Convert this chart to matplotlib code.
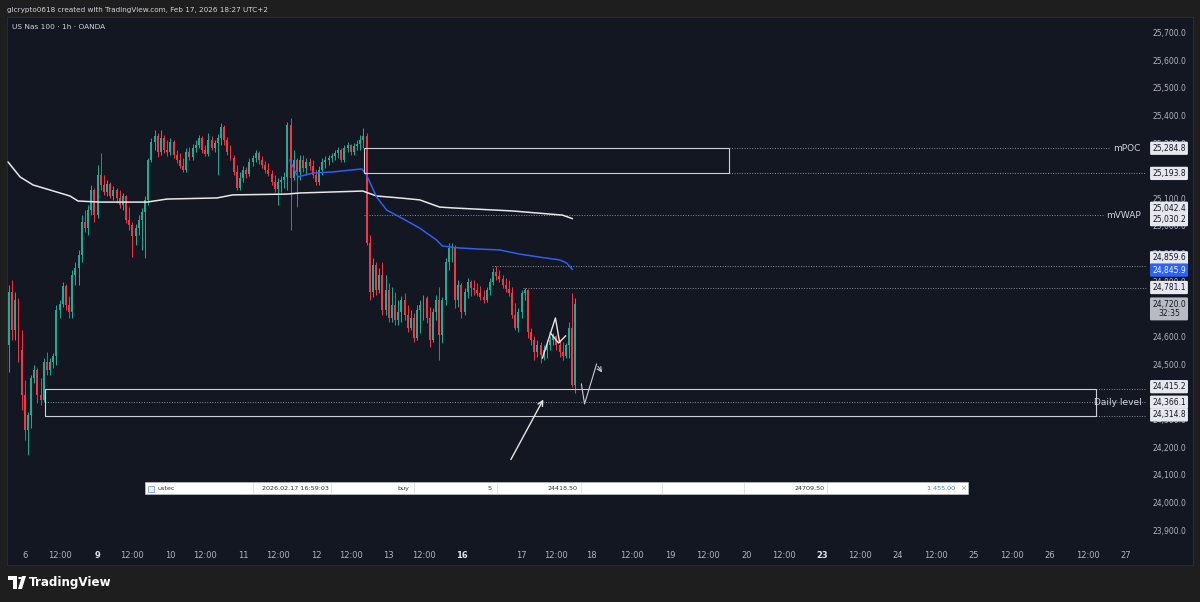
import matplotlib
matplotlib.use('Agg')
import matplotlib.pyplot as plt
from matplotlib.patches import Rectangle, Circle, Polygon
from matplotlib.transforms import blended_transform_factory, offset_copy
import numpy as np

# ---------------- data (hourly bars, index = bar number) ----------------
first_open = 24573
closes = [24765, 24627, 24736, 24555, 24392, 24266, 24320, 24454, 24483, 24392,
          24374, 24512, 24483, 24512, 24533, 24700, 24721, 24787, 24718, 24692,
          24826, 24852, 24899, 25018, 24996, 25061, 25134, 25043, 25188, 25152,
          25127, 25155, 25112, 25134, 25105, 25080, 25112, 25025, 25007, 24967,
          24996, 25025, 25054, 25098, 25242, 25307, 25329, 25271, 25322, 25278,
          25271, 25307, 25260, 25242, 25221, 25206, 25271, 25253, 25286, 25297,
          25322, 25278, 25264, 25315, 25286, 25304, 25322, 25362, 25315, 25271,
          25250, 25199, 25141, 25177, 25206, 25192, 25235, 25250, 25268, 25242,
          25224, 25206, 25192, 25163, 25137, 25163, 25170, 25181, 25369, 25177,
          25242, 25199, 25242, 25213, 25235, 25221, 25188, 25163, 25206, 25235,
          25242, 25250, 25257, 25268, 25278, 25242, 25286, 25297, 25271, 25293,
          25300, 25315, 25329, 24942, 24765, 24863, 24772, 24826, 24700, 24772,
          24671, 24718, 24664, 24692, 24736, 24682, 24635, 24671, 24598, 24700,
          24718, 24743, 24671, 24591, 24692, 24736, 24609, 24736, 24873, 24924,
          24928, 24736, 24790, 24692, 24765, 24801, 24779, 24772, 24761, 24747,
          24736, 24772, 24801, 24837, 24823, 24812, 24790, 24776, 24761, 24682,
          24635, 24692, 24761, 24772, 24620, 24591, 24548, 24573, 24537, 24555,
          24573, 24591, 24606, 24573, 24548, 24533, 24573, 24635, 24429, 24720]
highs = [24790, 24808, 24765, 24743, 24627, 24447, 24331, 24465, 24501, 24490,
         24454, 24526, 24548, 24526, 24544, 24718, 24736, 24801, 24794, 24750,
         24844, 24873, 24917, 25043, 25061, 25080, 25152, 25141, 25224, 25268,
         25188, 25170, 25163, 25148, 25141, 25134, 25123, 25116, 25072, 25018,
         25011, 25043, 25069, 25112, 25250, 25322, 25351, 25340, 25351, 25333,
         25315, 25322, 25315, 25278, 25268, 25250, 25286, 25289, 25300, 25315,
         25333, 25329, 25297, 25340, 25329, 25315, 25336, 25376, 25369, 25325,
         25297, 25260, 25224, 25199, 25221, 25217, 25250, 25260, 25278, 25275,
         25257, 25239, 25231, 25206, 25188, 25177, 25184, 25199, 25380, 25394,
         25278, 25250, 25260, 25260, 25250, 25250, 25242, 25206, 25221, 25250,
         25257, 25260, 25268, 25278, 25289, 25286, 25297, 25307, 25300, 25304,
         25315, 25333, 25358, 25340, 24971, 24888, 24873, 24852, 24873, 24826,
         24797, 24783, 24765, 24736, 24750, 24761, 24718, 24700, 24689, 24718,
         24736, 24754, 24750, 24711, 24707, 24754, 24783, 24747, 24888, 24942,
         24942, 24935, 24808, 24797, 24779, 24815, 24808, 24808, 24797, 24787,
         24772, 24783, 24815, 24852, 24859, 24844, 24826, 24815, 24808, 24783,
         24725, 24707, 24772, 24781, 24776, 24635, 24606, 24591, 24584, 24573,
         24591, 24606, 24617, 24609, 24591, 24584, 24580, 24656, 24761, 24743]
lows = [24476, 24591, 24591, 24512, 24338, 24230, 24175, 24273, 24436, 24363,
        24356, 24367, 24465, 24465, 24490, 24501, 24671, 24711, 24700, 24671,
        24671, 24790, 24790, 24873, 24982, 24971, 25043, 25018, 25033, 25134,
        25116, 25112, 25105, 25098, 25087, 25069, 25061, 25014, 24989, 24891,
        24935, 24971, 24917, 24888, 25080, 25235, 25278, 25253, 25260, 25268,
        25257, 25260, 25250, 25231, 25213, 25199, 25199, 25242, 25242, 25271,
        25286, 25268, 25257, 25257, 25278, 25271, 25188, 25297, 25297, 25260,
        25242, 25188, 25134, 25134, 25163, 25177, 25184, 25221, 25235, 25228,
        25213, 25195, 25184, 25152, 25127, 25080, 25127, 25141, 25134, 24989,
        25170, 25072, 25170, 25199, 25188, 25206, 25177, 25152, 25152, 25188,
        25213, 25224, 25235, 25242, 25250, 25235, 25235, 25271, 25260, 25260,
        25278, 25278, 25286, 24935, 24736, 24747, 24754, 24761, 24682, 24682,
        24656, 24656, 24645, 24645, 24656, 24664, 24620, 24627, 24584, 24591,
        24617, 24664, 24653, 24566, 24584, 24664, 24519, 24580, 24718, 24844,
        24873, 24707, 24711, 24671, 24682, 24743, 24750, 24754, 24750, 24736,
        24725, 24729, 24754, 24790, 24808, 24801, 24779, 24765, 24750, 24671,
        24627, 24620, 24671, 24736, 24598, 24573, 24519, 24530, 24508, 24519,
        24526, 24555, 24573, 24555, 24530, 24519, 24526, 24526, 24421, 24400]

# monthly VWAP (white) and anchored VWAP (blue): (bar, price) read points
mvwap_bar = [-0.3, 3.5, 7.6, 12.9, 19.3, 21.8, 28.7, 43.6, 49.9, 65.7, 70.7, 87.8,
             91.9, 111.8, 116.2, 123.5, 129.8, 136.1, 140.2, 159.1, 174.9, 178.1]
mvwap_px = [25235, 25181, 25152, 25134, 25112, 25094, 25090, 25090, 25101, 25105,
            25116, 25119, 25123, 25130, 25112, 25105, 25098, 25072, 25069, 25058,
            25043, 25030]
avwap_bar = [88.7, 91.3, 96.0, 102.3, 111.5, 113.0, 116.2, 119.4, 123.5, 129.8,
             135.1, 137.0, 142.4, 148.7, 155.0, 161.4, 167.7, 174.0, 176.2, 178.1]
avwap_px = [25242, 25181, 25195, 25199, 25210, 25188, 25108, 25061, 25036, 24996,
            24953, 24931, 24924, 24920, 24917, 24902, 24891, 24881, 24870, 24846]

# levels
mpoc_top, mpoc_bot = 25284.8, 25193.8
mpoc_start, mpoc_end = 112.1, 227.7
mvwap_level = 25042.4
mvwap_last = 25030.2
high_level_1, high_level_1_start = 24859.6, 152.8
high_level_2, high_level_2_start = 24781.1, 162.3
avwap_last = 24845.9
daily_top, daily_mid, daily_bot = 24415.2, 24366.1, 24314.8
daily_start, daily_end = 11.4, 343.5
last_price = 24720.0
countdown = '32:35'

# drawings (bar, price)
arrow_tail, arrow_head = (158.2, 24150), (169.3, 24385)
a_stroke1 = [(168.6, 24526), (172.7, 24671), (174.0, 24584)]
a_stroke2 = [(171.1, 24617), (173.7, 24580), (175.9, 24606)]
zig = [(180.9, 24432), (181.9, 24360), (185.7, 24504), (187.9, 24465)]

# axis labels (ticks hidden behind the price tags in the reference are left out)
price_ticks = [23900, 24000, 24100, 24200, 24300, 24500, 24600, 24800, 24900,
               25000, 25100, 25300, 25400, 25500, 25600, 25700]
time_ticks = [5, 16, 28, 39, 51, 62, 74, 85, 97, 108, 120, 131, 143, 162, 173, 184,
              197, 209, 221, 233, 245, 257, 269, 281, 293, 305, 317, 329, 341, 353]
time_labels = ['6', '12:00', '9', '12:00', '10', '12:00', '11', '12:00', '12', '12:00',
               '13', '12:00', '16', '17', '12:00', '18', '12:00', '19', '12:00', '20',
               '12:00', '23', '12:00', '24', '12:00', '25', '12:00', '26', '12:00', '27']
bold_labels = ['9', '16', '23']

trade_cells = ['ustec', '2026.02.17 16:59:03', 'buy', '5', '24418.50', '', '', '24709.50', '', '1 455.00']

# ---------------- figure ----------------
W, H = 1200, 602
BG = '#1e1e1e'
PANEL = '#131722'
UP, DN = '#22ab94', '#f23645'
TXT = '#b2b5be'

fig = plt.figure(figsize=(12, 6.02), dpi=100)
fig.patch.set_facecolor(BG)

def fx(x):
    return x / W

def fy(y):
    return 1 - y / H

pl, pr, pt, pb = 7, 1193, 17, 565
ax = fig.add_axes([fx(pl), fy(pb), (pr - pl) / W, (pb - pt) / H])
ax.set_facecolor(PANEL)
ax.set_xlim(-0.632, 374.2)
ax.set_ylim(23777.4, 25759.5)
ax.set_xticks([])
ax.set_yticks([])
for s in ax.spines.values():
    s.set_color('#2a2e39')
    s.set_linewidth(0.6)

bt = blended_transform_factory(ax.transAxes, ax.transData)
tb = blended_transform_factory(ax.transData, ax.transAxes)

def axfx(px):
    return (px - pl) / (pr - pl)

# price scale labels
xlab = axfx(1169)
for p in price_ticks:
    ax.text(xlab, p, f'{p:,.1f}', transform=bt, ha='center', va='center',
            fontsize=5.5, color=TXT, zorder=2)

# time labels
for t, lab in zip(time_ticks, time_labels):
    bold = lab in bold_labels
    ax.text(t, 0.018, lab, transform=tb, ha='center', va='center', fontsize=6,
            color='#e0e3eb' if bold else TXT, fontweight='bold' if bold else 'normal')

# candles
c = np.array(closes, float)
o = np.array([first_open] + closes[:-1], float)
hi = np.array(highs, float)
lo = np.array(lows, float)
idx = np.arange(len(c))
cols = np.where(c >= o, UP, DN)
ax.vlines(idx, lo, hi, colors=cols, lw=0.7, zorder=3)
body = np.maximum(np.abs(c - o), 3)
ax.bar(idx, body, bottom=np.minimum(o, c), width=0.62, color=cols, lw=0, zorder=3)

# vwap lines
ax.plot(mvwap_bar, mvwap_px, color='#e8e8e8', lw=1.1, zorder=4, solid_capstyle='round')
ax.plot(avwap_bar, avwap_px, color='#2f5ff0', lw=1.1, zorder=4, solid_capstyle='round')

# boxes and levels
BOXC = '#cfd2d8'
DOT = dict(color='#8c8f98', lw=0.7, ls=(0, (1, 1.6)), zorder=2)
scale_left = (1147 - 9) / 3.167
ax.add_patch(Rectangle((mpoc_start, mpoc_bot), mpoc_end - mpoc_start, mpoc_top - mpoc_bot,
                       fill=False, ec=BOXC, lw=0.8, zorder=5))
ax.plot([mpoc_end, (1110 - 9) / 3.167], [mpoc_top, mpoc_top], **DOT)
ax.plot([mpoc_end, scale_left], [mpoc_bot, mpoc_bot], **DOT)
ax.plot([mpoc_start, (1104 - 9) / 3.167], [mvwap_level, mvwap_level], **DOT)
ax.plot([high_level_1_start, scale_left], [high_level_1, high_level_1], **DOT)
ax.plot([high_level_2_start, scale_left], [high_level_2, high_level_2], **DOT)
ax.add_patch(Rectangle((daily_start, daily_bot), daily_end - daily_start, daily_top - daily_bot,
                       fill=False, ec=BOXC, lw=0.8, zorder=5))
ax.plot([daily_start, daily_end], [daily_mid, daily_mid], **DOT)
for lv in (daily_top, daily_mid, daily_bot):
    ax.plot([daily_end, scale_left], [lv, lv], **DOT)

LBL = '#d1d4dc'
ax.text(axfx(1141), mpoc_top, 'mPOC', transform=bt, ha='right', va='center',
        fontsize=6.5, color=LBL, zorder=6)
ax.text(axfx(1141), mvwap_level, 'mVWAP', transform=bt, ha='right', va='center',
        fontsize=6.5, color=LBL, zorder=6)
ax.text(axfx(1142), daily_mid, 'Daily level', transform=bt, ha='right', va='center',
        fontsize=6.5, color=LBL, zorder=6)

# tagged price labels on the scale (shift in pixels where TradingView stacks them)
def tag(price, fc, tc, text=None, shift_px=0):
    tr = offset_copy(bt, fig=fig, x=0, y=shift_px, units='dots')
    ax.text(xlab, price, text if text else f'{price:,.1f}', transform=tr, ha='center',
            va='center', fontsize=5.5, color=tc, zorder=8, linespacing=1.1,
            bbox=dict(boxstyle='round,pad=0.28,rounding_size=0.15', fc=fc, ec='none'))

tag(mpoc_top, '#e6e8ee', '#131722')
tag(mpoc_bot, '#e6e8ee', '#131722')
tag(mvwap_level, '#e6e8ee', '#131722', shift_px=7)
tag(mvwap_last, '#e6e8ee', '#131722', shift_px=-1)
tag(high_level_1, '#e6e8ee', '#131722', shift_px=8)
tag(avwap_last, '#2962ff', '#ffffff', shift_px=-0.5)
tag(high_level_2, '#e6e8ee', '#131722')
tag(daily_top, '#e6e8ee', '#131722', shift_px=2)
tag(daily_mid, '#e6e8ee', '#131722')
tag(daily_bot, '#e6e8ee', '#131722', shift_px=1.5)
tag(last_price, '#b8bbc4', '#131722', f'{last_price:,.1f}\n{countdown}', shift_px=-4.5)

# drawings
DRAW = '#e6e6e6'
ax.annotate('', xy=arrow_head, xytext=arrow_tail,
            arrowprops=dict(arrowstyle='->', color=DRAW, lw=1.0, mutation_scale=9), zorder=7)
for stroke in (a_stroke1, a_stroke2):
    ax.plot([p[0] for p in stroke], [p[1] for p in stroke], color=DRAW, lw=1.0, zorder=7)
ax.plot([p[0] for p in zig[:3]], [p[1] for p in zig[:3]], color='#c8cad0', lw=0.8, zorder=7)
ax.annotate('', xy=zig[3], xytext=zig[2],
            arrowprops=dict(arrowstyle='->', color='#c8cad0', lw=0.8, mutation_scale=8), zorder=7)

# ---------------- overlay: trade strip ----------------
sx0, sx1, sy0, sy1 = 145, 968, 482, 494
fig.add_artist(Rectangle((fx(sx0), fy(sy1)), fx(sx1 - sx0), (sy1 - sy0) / H,
                         transform=fig.transFigure, fc='#ffffff', ec='#d0d0d0', lw=0.4, zorder=10))
for xs in (253, 331, 414, 497, 581, 662, 744, 827):
    fig.add_artist(plt.Line2D([fx(xs), fx(xs)], [fy(sy1 - 1), fy(sy0 + 1)],
                              transform=fig.transFigure, color='#d8d8d8', lw=0.5, zorder=11))
fig.add_artist(Rectangle((fx(148), fy(491.5)), fx(6), 6 / H, transform=fig.transFigure,
                         fc='#eaf2ff', ec='#6a8fd0', lw=0.5, zorder=11))
cell_right = [None, 329, 409, 492, 578, None, None, 825, None, 955]
ycell = fy(488.3)
fig.text(fx(158), ycell, trade_cells[0], ha='left', va='center', fontsize=4.6, color='#333333', zorder=12)
for txt, xr in zip(trade_cells, cell_right):
    if xr is None or not txt:
        continue
    col = '#3b7dd8' if txt == trade_cells[-1] else '#333333'
    fig.text(fx(xr), ycell, txt, ha='right', va='center', fontsize=4.6, color=col, zorder=12)
fig.text(fx(963), ycell, '×', ha='center', va='center', fontsize=5, color='#888888', zorder=12)

# ---------------- header / footer ----------------
fig.text(fx(7), fy(10), 'glcrypto0618 created with TradingView.com, Feb 17, 2026 18:27 UTC+2',
         ha='left', va='center', fontsize=5.2, color='#d1d4dc')
ax.text(axfx(12), 1 - (27 - pt) / (pb - pt), 'US Nas 100 · 1h · OANDA',
        transform=ax.transAxes, ha='left', va='center', fontsize=5.3, color='#d1d4dc')

# TradingView logo
LOGO = '#ffffff'
fig.add_artist(Polygon([(fx(8), fy(576)), (fx(17), fy(576)), (fx(17), fy(589)), (fx(13), fy(589)),
                        (fx(13), fy(580)), (fx(8), fy(580))], closed=True,
                       transform=fig.transFigure, fc=LOGO, ec='none'))
fig.add_artist(Circle((fx(20), fy(578)), 2.0 / W, transform=fig.transFigure, fc=LOGO, ec='none'))
fig.add_artist(Polygon([(fx(22), fy(576)), (fx(26), fy(576)), (fx(22), fy(589)), (fx(18), fy(589))],
                       closed=True, transform=fig.transFigure, fc=LOGO, ec='none'))
fig.text(fx(29), fy(582.5), 'TradingView', ha='left', va='center', fontsize=8.6,
         fontweight='bold', color=LOGO)

fig.savefig('out.png', dpi=100, facecolor=BG)
